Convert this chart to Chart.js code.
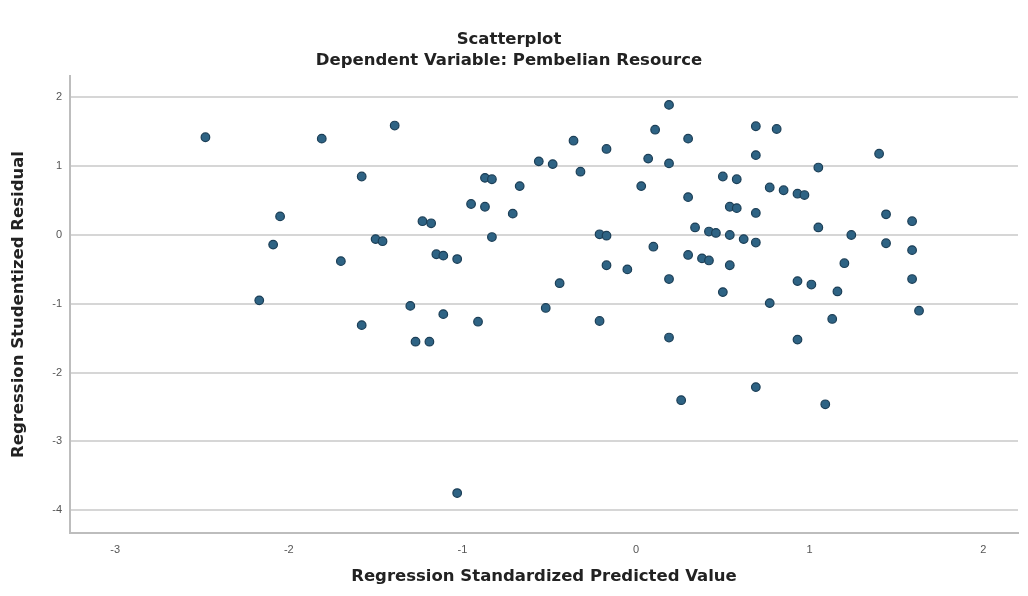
<!DOCTYPE html>
<html>
<head>
<meta charset="utf-8">
<title>Scatterplot</title>
<script src="https://cdn.jsdelivr.net/npm/chart.js@4.4.1/dist/chart.umd.min.js"></script>
<style>
  html, body { margin: 0; padding: 0; background: #ffffff; }
  #wrap { width: 1028px; height: 596px; position: relative; }
</style>
</head>
<body>
<div id="wrap"><canvas id="scatterChart"></canvas></div>
<script>
// data
const predicted = [
  -2.48, -1.81, -1.39, -1.58, -2.05, -2.09, -1.50, -1.46, -1.70, -2.17,
  -1.58, -1.30, -1.11, -0.91, -1.27, -1.19, -1.03, -1.23, -1.18, -1.15,
  -1.11, -1.03, -0.95, -0.87, -0.87, -0.83, -0.83, -0.71, -0.67, -0.56,
  -0.48, -0.36, -0.32, -0.44, -0.52, -0.21, -0.17, -0.17, -0.17, -0.05,
  -0.21, 0.07, 0.03, 0.11, 0.10, 0.19, 0.19, 0.19, 0.19, 0.30,
  0.30, 0.30, 0.26, 0.34, 0.38, 0.42, 0.42, 0.46, 0.50, 0.50,
  0.54, 0.54, 0.54, 0.58, 0.58, 0.62, 0.69, 0.69, 0.69, 0.69,
  0.69, 0.77, 0.77, 0.81, 0.85, 0.93, 0.97, 0.93, 0.93, 1.01,
  1.05, 1.05, 1.09, 1.13, 1.16, 1.20, 1.24, 1.40, 1.44, 1.44,
  1.59, 1.59, 1.59, 1.63
];
const residual = [
  1.42, 1.40, 1.59, 0.85, 0.27, -0.14, -0.06, -0.09, -0.38, -0.95,
  -1.31, -1.03, -1.15, -1.26, -1.55, -1.55, -3.75, 0.20, 0.17, -0.28,
  -0.30, -0.35, 0.45, 0.41, 0.83, 0.81, -0.03, 0.31, 0.71, 1.07,
  1.03, 1.37, 0.92, -0.70, -1.06, 0.01, -0.01, 1.25, -0.44, -0.50,
  -1.25, 1.11, 0.71, 1.53, -0.17, 1.89, 1.04, -0.64, -1.49, 1.40,
  0.55, -0.29, -2.40, 0.11, -0.34, -0.37, 0.05, 0.03, 0.85, -0.83,
  -0.44, 0.00, 0.41, 0.39, 0.81, -0.06, -0.11, 0.32, 1.16, 1.58,
  -2.21, 0.69, -0.99, 1.54, 0.65, 0.60, 0.58, -0.67, -1.52, -0.72,
  0.98, 0.11, -2.46, -1.22, -0.82, -0.41, 0.00, 1.18, 0.30, -0.12,
  0.20, -0.22, -0.64, -1.10
];
const xTicks = [-3, -2, -1, 0, 1, 2];
const yTicks = [-4, -3, -2, -1, 0, 1, 2];

const FONT = "'DejaVu Sans', Arial, sans-serif";
const TICK_FONT = "'Liberation Sans', Arial, sans-serif";
const titleFont = { family: FONT, size: 16.5, weight: 'bold', lineHeight: 1 };

const points = predicted.map((x, i) => ({ x: x, y: residual[i] }));

new Chart(document.getElementById('scatterChart'), {
  type: 'scatter',
  data: {
    datasets: [{
      label: 'Residual',
      data: points,
      backgroundColor: '#2e6384',
      borderColor: '#1c3f57',
      borderWidth: 1.2,
      pointRadius: 4.3,
      pointHoverRadius: 4.3
    }]
  },
  options: {
    responsive: true,
    maintainAspectRatio: false,
    animation: false,
    layout: { padding: { top: 0, right: 10, bottom: 0, left: 0 } },
    plugins: {
      legend: { display: false },
      tooltip: { enabled: false },
      title: {
        display: true,
        text: 'Scatterplot',
        color: '#222222',
        font: titleFont,
        padding: { top: 31, bottom: 0 }
      },
      subtitle: {
        display: true,
        text: 'Dependent Variable: Pembelian Resource',
        color: '#222222',
        font: titleFont,
        padding: { top: 5, bottom: 7 }
      }
    },
    scales: {
      x: {
        type: 'linear',
        min: -3.26,
        max: 2.2,
        afterBuildTicks: axis => { axis.ticks = xTicks.map(v => ({ value: v })); },
        afterFit: axis => { axis.height = 63; },
        grid: { display: false, drawTicks: false },
        border: { display: true, color: '#bdbdbd', width: 2 },
        ticks: {
          color: '#555555',
          padding: 10,
          font: { family: TICK_FONT, size: 11 }
        },
        title: {
          display: true,
          text: 'Regression Standardized Predicted Value',
          color: '#222222',
          font: titleFont,
          padding: { top: 0, bottom: 11 }
        }
      },
      y: {
        type: 'linear',
        min: -4.33,
        max: 2.31,
        afterBuildTicks: axis => { axis.ticks = yTicks.map(v => ({ value: v })); },
        afterFit: axis => { axis.width = 70; },
        grid: { color: '#d6d6d6', lineWidth: 2, drawTicks: false },
        border: { display: true, color: '#bdbdbd', width: 2 },
        ticks: {
          color: '#555555',
          padding: 8,
          font: { family: TICK_FONT, size: 11 }
        },
        title: {
          display: true,
          text: 'Regression Studentized Residual',
          color: '#222222',
          font: titleFont,
          padding: { top: 10, bottom: 0 }
        }
      }
    }
  }
});
</script>
</body>
</html>
